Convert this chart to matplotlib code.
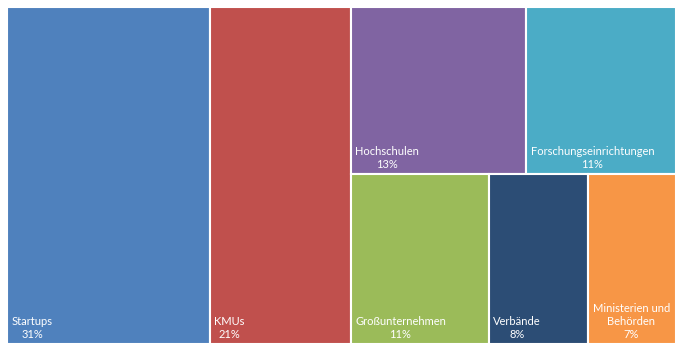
import matplotlib
matplotlib.use("Agg")
import matplotlib.pyplot as plt
from matplotlib.patches import Rectangle

# Data: labels, shown percentages, and tile sizes
labels = ["Startups", "KMUs", "Hochschulen", "Forschungseinrichtungen",
          "Großunternehmen", "Verbände", "Ministerien und\nBehörden"]
shares = [31, 21, 13, 11, 11, 8, 7]
sizes = [30.3, 21.0, 13.0, 11.1, 10.4, 7.5, 6.6]
colors = ["#4F81BD", "#C0504D", "#8064A2", "#4BACC6",
          "#9BBB59", "#2C4D75", "#F79646"]

# treemap grouping: columns -> rows -> item indices
columns = [[[0]], [[1]], [[2, 3], [4, 5, 6]]]

W, H = 669.0, 337.0

fig = plt.figure(figsize=(6.82, 3.52), dpi=100)
ax = fig.add_axes([7 / 682, 8 / 352, W / 682, H / 352])
ax.set_xlim(0, W)
ax.set_ylim(H, 0)
ax.axis("off")

total = sum(sizes)
x = 0.0
for col in columns:
    col_sum = sum(sizes[i] for row in col for i in row)
    cw = W * col_sum / total
    y = 0.0
    for row in col:
        row_sum = sum(sizes[i] for i in row)
        rh = H * row_sum / col_sum
        rx = x
        for i in row:
            w = cw * sizes[i] / row_sum
            ax.add_patch(Rectangle((rx, y), w, rh, facecolor=colors[i],
                                   edgecolor="white", linewidth=1.5))
            ax.text(rx + 4.5, y + rh - 4, f"{labels[i]}\n{shares[i]}%",
                    ha="left", va="bottom", multialignment="center",
                    color="white", fontsize=8, family=["Lato", "DejaVu Sans"],
                    linespacing=1.25)
            rx += w
        y += rh
    x += cw

fig.savefig("out.png", dpi=100)
